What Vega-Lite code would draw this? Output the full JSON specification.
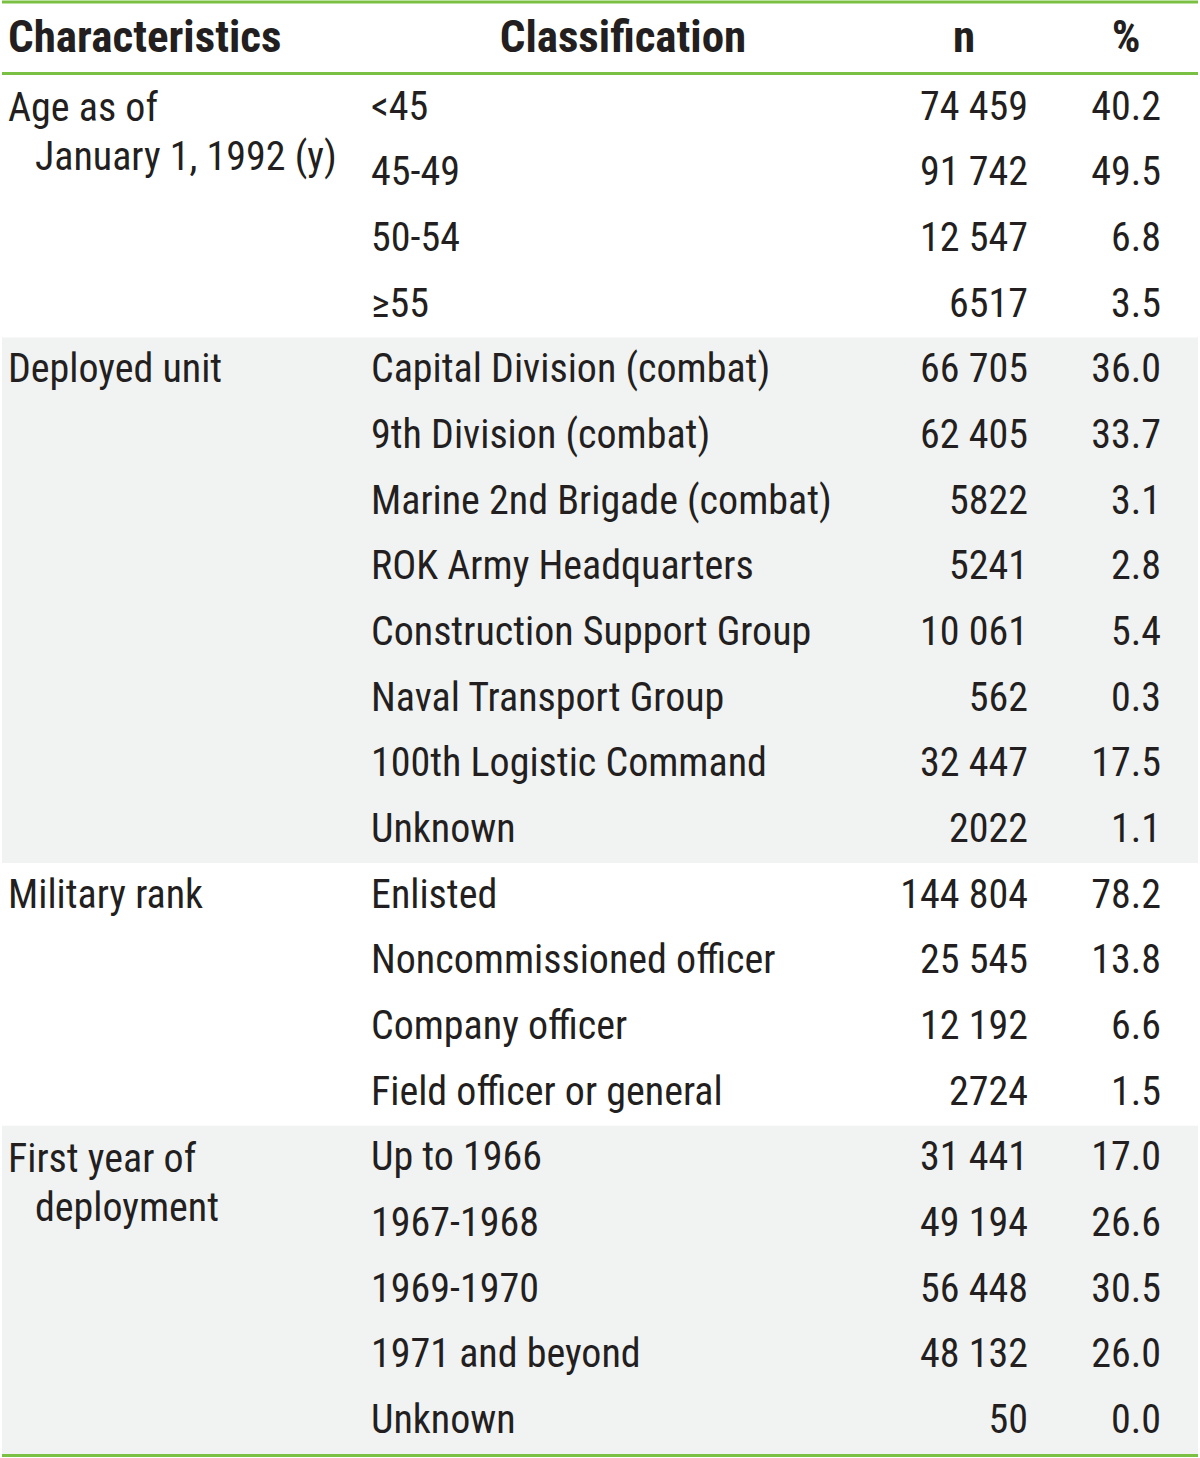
{
  "$schema": "https://vega.github.io/schema/vega-lite/v6.json",
  "width": 1200,
  "height": 1458,
  "padding": 0,
  "autosize": {"type": "fit", "contains": "padding"},
  "background": "white",
  "config": {"view": {"stroke": null}},
  "datasets": {
    "groups": [
      {"group": "Age", "start": 0, "end": 4, "shade": "no"},
      {"group": "Deployed unit", "start": 4, "end": 12, "shade": "yes"},
      {"group": "Military rank", "start": 12, "end": 16, "shade": "no"},
      {"group": "First year", "start": 16, "end": 21, "shade": "yes"}
    ],
    "lines": [
      {"name": "top", "pos": -1.11},
      {"name": "head", "pos": -0.023},
      {"name": "bottom", "pos": 21.023}
    ],
    "header": [
      {"row": -0.56, "col": "char", "text": "Characteristics"},
      {"row": -0.56, "col": "cls", "text": "Classification"},
      {"row": -0.56, "col": "n", "text": "n"},
      {"row": -0.56, "col": "pct", "text": "%"}
    ],
    "chars": [
      {"row": 0.52, "line": 1, "text": "Age as of"},
      {"row": 1.27, "line": 2, "text": "January 1, 1992 (y)"},
      {"row": 4.5, "line": 1, "text": "Deployed unit"},
      {"row": 12.5, "line": 1, "text": "Military rank"},
      {"row": 16.52, "line": 1, "text": "First year of"},
      {"row": 17.27, "line": 2, "text": "deployment"}
    ],
    "rows": [
      {"row": 0.5, "cls": "<45", "n": "74 459", "pct": "40.2"},
      {"row": 1.5, "cls": "45-49", "n": "91 742", "pct": "49.5"},
      {"row": 2.5, "cls": "50-54", "n": "12 547", "pct": "6.8"},
      {"row": 3.5, "cls": "≥55", "n": "6517", "pct": "3.5"},
      {"row": 4.5, "cls": "Capital Division (combat)", "n": "66 705", "pct": "36.0"},
      {"row": 5.5, "cls": "9th Division (combat)", "n": "62 405", "pct": "33.7"},
      {"row": 6.5, "cls": "Marine 2nd Brigade (combat)", "n": "5822", "pct": "3.1"},
      {"row": 7.5, "cls": "ROK Army Headquarters", "n": "5241", "pct": "2.8"},
      {"row": 8.5, "cls": "Construction Support Group", "n": "10 061", "pct": "5.4"},
      {"row": 9.5, "cls": "Naval Transport Group", "n": "562", "pct": "0.3"},
      {"row": 10.5, "cls": "100th Logistic Command", "n": "32 447", "pct": "17.5"},
      {"row": 11.5, "cls": "Unknown", "n": "2022", "pct": "1.1"},
      {"row": 12.5, "cls": "Enlisted", "n": "144 804", "pct": "78.2"},
      {"row": 13.5, "cls": "Noncommissioned officer", "n": "25 545", "pct": "13.8"},
      {"row": 14.5, "cls": "Company officer", "n": "12 192", "pct": "6.6"},
      {"row": 15.5, "cls": "Field officer or general", "n": "2724", "pct": "1.5"},
      {"row": 16.5, "cls": "Up to 1966", "n": "31 441", "pct": "17.0"},
      {"row": 17.5, "cls": "1967-1968", "n": "49 194", "pct": "26.6"},
      {"row": 18.5, "cls": "1969-1970", "n": "56 448", "pct": "30.5"},
      {"row": 19.5, "cls": "1971 and beyond", "n": "48 132", "pct": "26.0"},
      {"row": 20.5, "cls": "Unknown", "n": "50", "pct": "0.0"}
    ]
  },
  "layer": [
    {
      "data": {"name": "groups"},
      "transform": [{"filter": "datum.shade == 'yes'"}],
      "mark": {"type": "rect", "color": "#f1f2f2"},
      "encoding": {
        "y": {"field": "start", "type": "quantitative", "scale": {"domain": [-1.126, 21.061], "reverse": true, "nice": false, "zero": false}, "axis": null},
        "y2": {"field": "end"},
        "x": {"value": 0},
        "x2": {"value": "width"}
      }
    },
    {
      "data": {"name": "lines"},
      "mark": {"type": "rule", "color": "#7ac143", "strokeWidth": 3},
      "encoding": {
        "y": {"field": "pos", "type": "quantitative"},
        "x": {"value": 0},
        "x2": {"value": "width"}
      }
    },
    {
      "data": {"name": "chars"},
      "mark": {"type": "text", "align": "left", "baseline": "middle", "font": "Roboto Condensed, Roboto", "fontSize": 40, "color": "#231f20"},
      "encoding": {
        "y": {"field": "row", "type": "quantitative"},
        "x": {"field": "line", "type": "quantitative", "scale": {"domain": [1, 2], "range": [6, 33]}, "axis": null},
        "text": {"field": "text"}
      }
    },
    {
      "data": {"name": "rows"},
      "mark": {"type": "text", "align": "left", "baseline": "middle", "font": "Roboto Condensed, Roboto", "fontSize": 40, "color": "#231f20"},
      "encoding": {
        "y": {"field": "row", "type": "quantitative"},
        "x": {"datum": 369, "type": "quantitative", "scale": null},
        "text": {"field": "cls"}
      }
    },
    {
      "data": {"name": "rows"},
      "mark": {"type": "text", "align": "right", "baseline": "middle", "font": "Roboto Condensed, Roboto", "fontSize": 40, "color": "#231f20"},
      "encoding": {
        "y": {"field": "row", "type": "quantitative"},
        "x": {"datum": 1026, "type": "quantitative", "scale": null},
        "text": {"field": "n"}
      }
    },
    {
      "data": {"name": "rows"},
      "mark": {"type": "text", "align": "right", "baseline": "middle", "font": "Roboto Condensed, Roboto", "fontSize": 40, "color": "#231f20"},
      "encoding": {
        "y": {"field": "row", "type": "quantitative"},
        "x": {"datum": 1159, "type": "quantitative", "scale": null},
        "text": {"field": "pct"}
      }
    },
    {
      "data": {"name": "header"},
      "transform": [{"filter": "datum.col == 'char'"}],
      "mark": {"type": "text", "align": "left", "baseline": "middle", "font": "Roboto Condensed, Roboto", "fontSize": 45, "fontWeight": "bold", "color": "#231f20"},
      "encoding": {
        "y": {"field": "row", "type": "quantitative"},
        "x": {"datum": 6, "type": "quantitative", "scale": null},
        "text": {"field": "text"}
      }
    },
    {
      "data": {"name": "header"},
      "transform": [{"filter": "datum.col == 'cls'"}],
      "mark": {"type": "text", "align": "center", "baseline": "middle", "font": "Roboto Condensed, Roboto", "fontSize": 45, "fontWeight": "bold", "color": "#231f20"},
      "encoding": {
        "y": {"field": "row", "type": "quantitative"},
        "x": {"datum": 621, "type": "quantitative", "scale": null},
        "text": {"field": "text"}
      }
    },
    {
      "data": {"name": "header"},
      "transform": [{"filter": "datum.col == 'n'"}],
      "mark": {"type": "text", "align": "center", "baseline": "middle", "font": "Roboto Condensed, Roboto", "fontSize": 45, "fontWeight": "bold", "color": "#231f20"},
      "encoding": {
        "y": {"field": "row", "type": "quantitative"},
        "x": {"datum": 962, "type": "quantitative", "scale": null},
        "text": {"field": "text"}
      }
    },
    {
      "data": {"name": "header"},
      "transform": [{"filter": "datum.col == 'pct'"}],
      "mark": {"type": "text", "align": "center", "baseline": "middle", "font": "Roboto Condensed, Roboto", "fontSize": 45, "fontWeight": "bold", "color": "#231f20"},
      "encoding": {
        "y": {"field": "row", "type": "quantitative"},
        "x": {"datum": 1124, "type": "quantitative", "scale": null},
        "text": {"field": "text"}
      }
    }
  ]
}
